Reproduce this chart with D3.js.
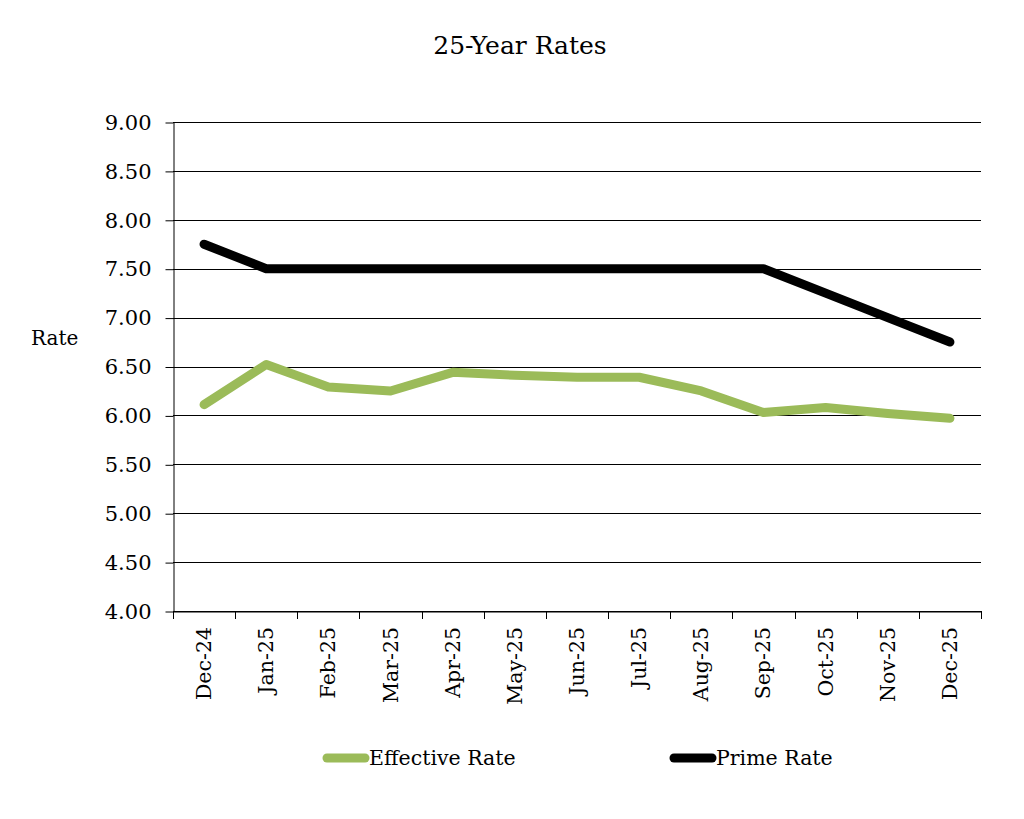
<!DOCTYPE html>
<html>
<head>
<meta charset="utf-8">
<script src="https://cdn.jsdelivr.net/npm/d3@7"></script>
<style>
  body { margin: 0; background: #fff; }
  text { font-family: "DejaVu Serif", Georgia, serif; fill: #000; }
</style>
</head>
<body>
<div id="viz"></div>
<script>
const months = ['Dec-24', 'Jan-25', 'Feb-25', 'Mar-25', 'Apr-25', 'May-25', 'Jun-25',
  'Jul-25', 'Aug-25', 'Sep-25', 'Oct-25', 'Nov-25', 'Dec-25'];
const effectiveRate = [6.11, 6.52, 6.29, 6.25, 6.44, 6.41, 6.39, 6.39, 6.25, 6.03, 6.08, 6.02, 5.97];
const primeRate = [7.75, 7.50, 7.50, 7.50, 7.50, 7.50, 7.50, 7.50, 7.50, 7.50, 7.25, 7.00, 6.75];
const yTicks = [4.0, 4.5, 5.0, 5.5, 6.0, 6.5, 7.0, 7.5, 8.0, 8.5, 9.0];

const width = 1024, height = 819;
const plotLeft = 173, plotRight = 981, plotTop = 122, plotBottom = 611;

const svg = d3.select('#viz').append('svg')
  .attr('width', width)
  .attr('height', height);

const x = d3.scaleBand().domain(months).range([plotLeft, plotRight]);
const y = d3.scaleLinear().domain([4, 9]).range([plotBottom, plotTop]);

// gridlines
svg.append('g')
  .selectAll('line')
  .data(yTicks)
  .join('line')
  .attr('x1', plotLeft).attr('x2', plotRight)
  .attr('y1', d => Math.round(y(d)) + 0.5)
  .attr('y2', d => Math.round(y(d)) + 0.5)
  .attr('stroke', '#000')
  .attr('stroke-width', 1);

// y axis
const yAxis = svg.append('g')
  .attr('transform', `translate(${plotLeft + 0.5},0.5)`)
  .call(d3.axisLeft(y).tickValues(yTicks).tickFormat(d3.format('.2f')).tickSizeOuter(0).tickSizeInner(8).tickPadding(14));
yAxis.attr('font-family', null).attr('font-size', null);
yAxis.select('.domain').attr('stroke', '#000');
yAxis.selectAll('.tick line').attr('stroke', '#000');
yAxis.selectAll('text').style('font-size', '21px');

// x axis
const xAxis = svg.append('g')
  .attr('transform', `translate(0.5,${plotBottom + 0.5})`)
  .call(d3.axisBottom(x).tickSize(0).tickFormat(''));
xAxis.select('.domain').attr('stroke', '#000');

const bounds = months.map(m => x(m)).concat([plotRight]);
svg.append('g')
  .selectAll('line')
  .data(bounds)
  .join('line')
  .attr('x1', d => Math.round(d) + 0.5).attr('x2', d => Math.round(d) + 0.5)
  .attr('y1', plotBottom).attr('y2', plotBottom + 8)
  .attr('stroke', '#000');

svg.append('g')
  .selectAll('text')
  .data(months)
  .join('text')
  .attr('transform', d => `translate(${x(d) + x.bandwidth() / 2 + 7},${plotBottom + 16}) rotate(-90)`)
  .attr('text-anchor', 'end')
  .style('font-size', '20.5px')
  .text(d => d);

// lines
const line = d3.line()
  .x((d, i) => x(months[i]) + x.bandwidth() / 2)
  .y(d => y(d));

svg.append('path')
  .datum(effectiveRate)
  .attr('d', line)
  .attr('fill', 'none')
  .attr('stroke', '#9BBB59')
  .attr('stroke-width', 9)
  .attr('stroke-linecap', 'round')
  .attr('stroke-linejoin', 'round');

svg.append('path')
  .datum(primeRate)
  .attr('d', line)
  .attr('fill', 'none')
  .attr('stroke', '#000')
  .attr('stroke-width', 9)
  .attr('stroke-linecap', 'round')
  .attr('stroke-linejoin', 'round');

// title + axis label
svg.append('text')
  .attr('x', 520).attr('y', 54)
  .attr('text-anchor', 'middle')
  .style('font-size', '25px')
  .text('25-Year Rates');

svg.append('text')
  .attr('x', 31).attr('y', 345)
  .style('font-size', '20px')
  .text('Rate');

// legend
const legend = [
  { name: 'Effective Rate', color: '#9BBB59', x: 327 },
  { name: 'Prime Rate', color: '#000', x: 674 }
];
const lg = svg.append('g').selectAll('g').data(legend).join('g')
  .attr('transform', d => `translate(${d.x},758)`);
lg.append('line')
  .attr('x1', 0).attr('x2', 38)
  .attr('stroke', d => d.color)
  .attr('stroke-width', 9)
  .attr('stroke-linecap', 'round');
lg.append('text')
  .attr('x', 42).attr('y', 7)
  .style('font-size', '20.5px')
  .text(d => d.name);
</script>
</body>
</html>
